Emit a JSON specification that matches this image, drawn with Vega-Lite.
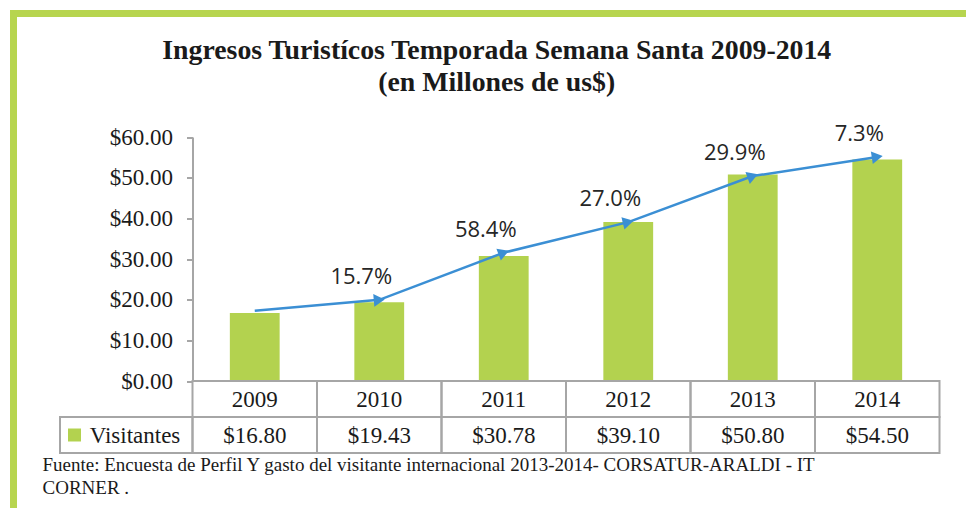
{
  "$schema": "https://vega.github.io/schema/vega-lite/v6.json",
  "width": 952.5,
  "height": 494.5,
  "padding": {"left": 13.5, "top": 13.5, "right": 0, "bottom": 0},
  "autosize": {"type": "none"},
  "background": "white",
  "title": {
    "text": ["Ingresos Turistícos Temporada Semana Santa 2009-2014", "(en Millones de us$)"],
    "font": "Liberation Serif",
    "fontSize": 27.8,
    "fontWeight": "bold",
    "color": "#1a1a1a",
    "lineHeight": 32,
    "anchor": "middle",
    "frame": "group",
    "baseline": "alphabetic",
    "offset": -105.5,
    "dx": 7
  },
  "data": {
    "values": [
      {"año": "2009", "valor": 16.80, "flecha": 17.3, "pct": null, "serie": "Visitantes"},
      {"año": "2010", "valor": 19.43, "flecha": 20.0, "pct": "15.7%", "serie": "Visitantes"},
      {"año": "2011", "valor": 30.78, "flecha": 31.6, "pct": "58.4%", "serie": "Visitantes"},
      {"año": "2012", "valor": 39.10, "flecha": 39.1, "pct": "27.0%", "serie": "Visitantes"},
      {"año": "2013", "valor": 50.80, "flecha": 50.4, "pct": "29.9%", "serie": "Visitantes"},
      {"año": "2014", "valor": 54.50, "flecha": 55.1, "pct": "7.3%", "serie": "Visitantes"}
    ]
  },
  "layer": [
    {
      "layer": [
        {
          "mark": {"type": "bar"},
          "encoding": {
            "x": {"field": "año", "type": "ordinal", "scale": {"range": [179, 926], "paddingInner": 0.6, "paddingOuter": 0.3}, "axis": null},
            "y": {
              "field": "valor", "type": "quantitative",
              "scale": {"domain": [0, 60], "range": [367.8, 123.5], "nice": false, "zero": true},
              "axis": {
                "offset": -179, "values": [0, 10, 20, 30, 40, 50, 60], "format": "$.2f",
                "tickSize": 6, "labelPadding": 14, "domainColor": "#a6a6a6", "domainWidth": 2,
                "tickColor": "#a6a6a6", "tickWidth": 2, "labelFont": "Liberation Serif", "labelFontSize": 23,
                "labelColor": "#1a1a1a", "title": null, "grid": false
              }
            },
            "color": {"field": "serie", "type": "nominal", "scale": {"domain": ["Visitantes"], "range": ["#b3d24f"]}, "legend": null}
          }
        },
        {
          "mark": {"type": "line", "color": "#3b8fd4", "strokeWidth": 2.5},
          "encoding": {
            "x": {"field": "año", "type": "ordinal"},
            "y": {"field": "flecha", "type": "quantitative"}
          }
        },
        {
          "transform": [
            {"window": [{"op": "lag", "field": "flecha", "as": "prev"}], "sort": [{"field": "año"}]},
            {"filter": "datum.prev != null"},
            {"calculate": "atan2(-(datum.flecha - datum.prev) * 4.0717, 124.5) * 180 / PI", "as": "ang"}
          ],
          "mark": {"type": "point", "shape": "triangle-right", "filled": true, "color": "#3b8fd4", "size": 160, "opacity": 1},
          "encoding": {
            "x": {"field": "año", "type": "ordinal"},
            "y": {"field": "flecha", "type": "quantitative"},
            "angle": {"field": "ang", "type": "quantitative", "scale": null}
          }
        },
        {
          "transform": [{"filter": "datum.pct != null"}],
          "mark": {"type": "text", "font": "Open Sans", "fontSize": 22, "color": "#262626", "dx": -18, "dy": -23},
          "encoding": {
            "x": {"field": "año", "type": "ordinal"},
            "y": {"field": "flecha", "type": "quantitative"},
            "text": {"field": "pct"}
          }
        }
      ]
    },
    {
      "layer": [
        {
          "mark": {"type": "rect", "fill": "white", "fillOpacity": 0, "stroke": "#a6a6a6", "strokeWidth": 2},
          "encoding": {
            "x": {
              "field": "año", "type": "ordinal",
              "scale": {"domain": ["Visitantes", "2009", "2010", "2011", "2012", "2013", "2014"], "range": [54.5, 926], "paddingInner": 0, "paddingOuter": 0},
              "axis": {
                "orient": "bottom", "domain": false, "ticks": false, "labels": false, "grid": false,
                "title": ["Fuente: Encuesta de  Perfil Y gasto del visitante internacional  2013-2014- CORSATUR-ARALDI - IT", "CORNER ."],
                "titleX": 28.5, "titleY": -38, "titleAlign": "left", "titleAnchor": "start", "titleBaseline": "alphabetic",
                "titleFont": "Liberation Serif", "titleFontSize": 19, "titleFontWeight": "normal", "titleColor": "#1a1a1a", "titleLineHeight": 23
              }
            },
            "y": {"datum": "Año", "type": "ordinal", "scale": {"domain": ["Año", "Visitantes"], "range": [367.5, 439.5], "paddingInner": 0, "paddingOuter": 0}, "axis": null}
          }
        },
        {
          "mark": {"type": "rect", "fill": "white", "fillOpacity": 0, "stroke": "#a6a6a6", "strokeWidth": 2},
          "encoding": {
            "x": {"field": "año", "type": "ordinal"},
            "y": {"datum": "Visitantes", "type": "ordinal"}
          }
        },
        {
          "data": {"values": [{"serie": "Visitantes"}]},
          "mark": {"type": "rect", "width": 132.5, "xOffset": -4, "fill": "white", "fillOpacity": 0, "stroke": "#a6a6a6", "strokeWidth": 2},
          "encoding": {
            "x": {"datum": "Visitantes", "type": "ordinal"},
            "y": {"datum": "Visitantes", "type": "ordinal"}
          }
        },
        {
          "mark": {"type": "text", "font": "Liberation Serif", "fontSize": 23, "color": "#1a1a1a", "dy": 1},
          "encoding": {
            "x": {"field": "año", "type": "ordinal"},
            "y": {"datum": "Año", "type": "ordinal"},
            "text": {"field": "año"}
          }
        },
        {
          "mark": {"type": "text", "font": "Liberation Serif", "fontSize": 23, "color": "#1a1a1a", "dy": 1},
          "encoding": {
            "x": {"field": "año", "type": "ordinal"},
            "y": {"datum": "Visitantes", "type": "ordinal"},
            "text": {"field": "valor", "type": "quantitative", "format": "$.2f"}
          }
        },
        {
          "data": {"values": [{"serie": "Visitantes"}]},
          "mark": {"type": "text", "font": "Liberation Serif", "fontSize": 23, "color": "#1a1a1a", "xOffset": 4.75, "dy": 1},
          "encoding": {
            "x": {"datum": "Visitantes", "type": "ordinal"},
            "y": {"datum": "Visitantes", "type": "ordinal"},
            "text": {"field": "serie"}
          }
        },
        {
          "data": {"values": [{"serie": "Visitantes"}]},
          "mark": {"type": "point", "shape": "square", "filled": true, "size": 169, "opacity": 1, "xOffset": -55.75},
          "encoding": {
            "x": {"datum": "Visitantes", "type": "ordinal"},
            "y": {"datum": "Visitantes", "type": "ordinal"},
            "color": {"field": "serie", "type": "nominal", "legend": null}
          }
        }
      ]
    }
  ],
  "resolve": {"scale": {"x": "independent", "y": "independent"}},
  "config": {
    "view": {"fill": "white", "stroke": "#b7d54f", "strokeWidth": 7, "strokeDash": [952.5, 1447, 494.5], "strokeCap": "square"}
  }
}
